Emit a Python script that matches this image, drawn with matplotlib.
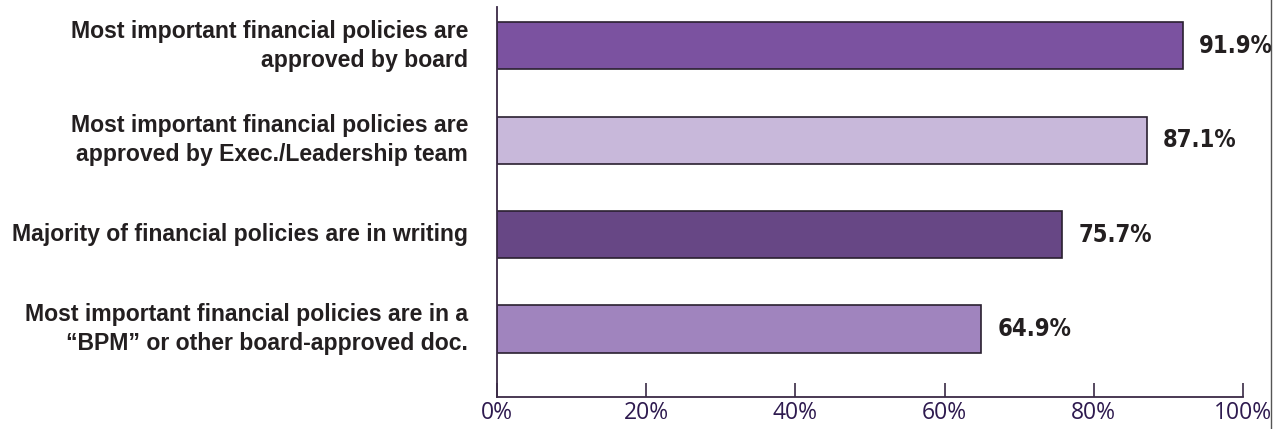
import matplotlib
matplotlib.use("Agg")
import matplotlib.pyplot as plt
from matplotlib.lines import Line2D

kategorier = [
    "Most important financial policies are\napproved by board",
    "Most important financial policies are\napproved by Exec./Leadership team",
    "Majority of financial policies are in writing",
    "Most important financial policies are in a\n\u201cBPM\u201d or other board-approved doc.",
]
verdier = [91.9, 87.1, 75.7, 64.9]
farger = ["#7b52a0", "#c8b8da", "#674785", "#a084be"]
tick_verdier = [0, 20, 40, 60, 80, 100]
tick_tekster = ["0%", "20%", "40%", "60%", "80%", "100%"]

fig = plt.figure(figsize=(12.77, 4.29), dpi=100)
ax = fig.add_axes([497 / 1277, 32 / 429, 746 / 1277, 390 / 429])

# bars from top to bottom
ypos = list(range(len(verdier)))[::-1]
ax.barh(ypos, verdier, height=0.5, color=farger, edgecolor="#2a2030", linewidth=1.2)

for y, v in zip(ypos, verdier):
    ax.text(v + 2.2, y, f"{v:.1f}%", va="center", ha="left", fontsize=17,
            fontweight="bold", fontstretch="condensed", color="#231f20",
            family=["DejaVu Sans"])

for y, k in zip(ypos, kategorier):
    ax.text(-3.9, y, k, va="center", ha="right", fontsize=16.6,
            fontweight="bold", color="#231f20", linespacing=1.35,
            family=["Liberation Sans", "DejaVu Sans"])

ax.set_xlim(0, 100)
ax.set_ylim(-0.72, 3.41)
ax.set_yticks([])
ax.set_xticks(tick_verdier)
ax.set_xticklabels(tick_tekster, fontsize=16.5, color="#2e1a4f",
                   family=["Open Sans", "DejaVu Sans"])
ax.tick_params(axis="x", direction="in", length=10, width=1.2, color="#3a2a45", pad=3)
ax.spines["top"].set_visible(False)
ax.spines["right"].set_visible(False)
for s in ["left", "bottom"]:
    ax.spines[s].set_color("#3a2a45")
    ax.spines[s].set_linewidth(1.3)

# thin frame line along the right edge
fig.add_artist(Line2D([1271 / 1277, 1271 / 1277], [0, 1], transform=fig.transFigure,
                      color="#555555", linewidth=1))

fig.savefig("out.png", dpi=100)
